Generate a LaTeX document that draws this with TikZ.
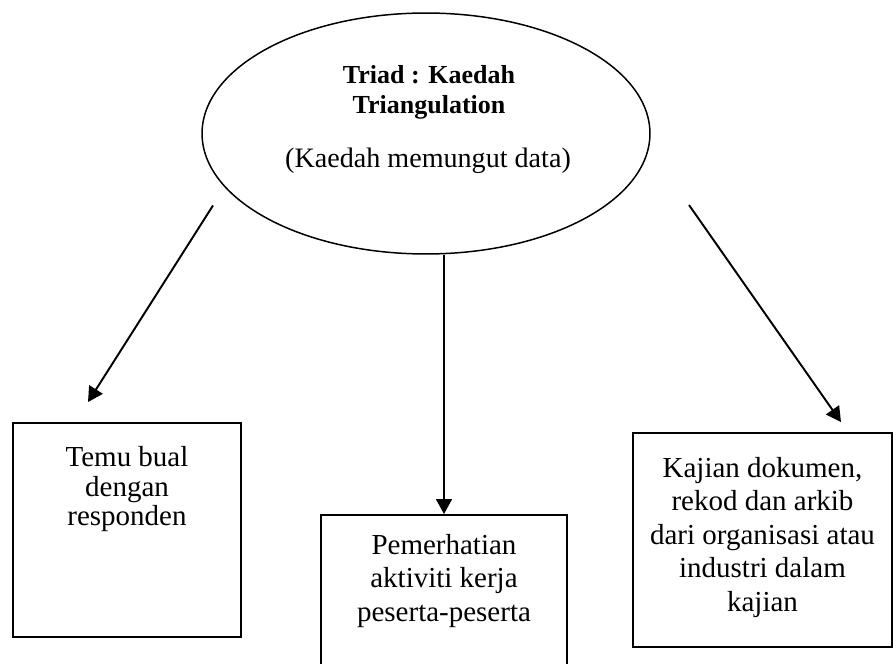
\documentclass[tikz,border=0pt]{standalone}
\usepackage{fontspec}
\setmainfont{Liberation Serif}
\usetikzlibrary{arrows.meta, shapes.geometric}

\begin{document}
\begin{tikzpicture}[
    x=0.02cm, y=0.02cm,
    every node/.style={font=\fontsize{16.5}{19}\selectfont},
    box/.style={
        draw,
        line width=1.1pt,
        inner sep=0pt,
    },
    txt/.style={align=center, inner sep=0pt, anchor=north},
    arr/.style={-{Triangle[length=8.5pt, width=9pt]}, line width=1.1pt}
]

% Canvas (the middle box runs past the bottom edge)
\useasboundingbox (0,0) rectangle (893,663);
\clip (0,0) rectangle (893,663);

% Ellipse on top
\node[ellipse, draw, line width=0.85pt, minimum width=8.96cm, minimum height=4.82cm, inner sep=0pt] (triad) at (426,529.5) {};
\node[txt, font=\fontsize{14.8}{17}\selectfont\bfseries] (triadtitle) at ([shift={(3,68.5)}]triad.center) {Triad : Kaedah\\Triangulation};
\node[anchor=base, inner sep=0pt, font=\fontsize{16}{19}\selectfont] (triadsub) at ([shift={(2,-34.5)}]triad.center) {(Kaedah memungut data)};

% Three boxes
\node[box, minimum width=4.56cm, minimum height=4.28cm] (temu) at (127,133) {};
\node[box, minimum width=4.92cm, minimum height=3.7cm] (pemer) at (444,55.5) {};
\node[box, minimum width=5.18cm, minimum height=4.28cm] (kajian) at (762.5,123) {};

% Box text
\node[txt, font=\fontsize{16.5}{16.8}\selectfont] (temutxt) at ([shift={(0,-24)}]temu.north) {Temu bual\\dengan\\responden};
\node[txt] (pemertxt) at ([shift={(0,-20)}]pemer.north) {Pemerhatian\\aktiviti kerja\\peserta-peserta};
\node[txt] (kajiantxt) at ([shift={(0,-25)}]kajian.north) {Kajian dokumen,\\rekod dan arkib\\dari organisasi atau\\industri dalam\\kajian};

% Arrows
\draw[arr] ([shift={(-213,-72)}]triad.center) -- ([shift={(-39,20)}]temu.north);
\draw[arr] (pemer.north |- triad.south) -- (pemer.north);
\draw[arr] ([shift={(263,-71.5)}]triad.center) -- ([shift={(78.5,10)}]kajian.north);

\end{tikzpicture}
\end{document}
